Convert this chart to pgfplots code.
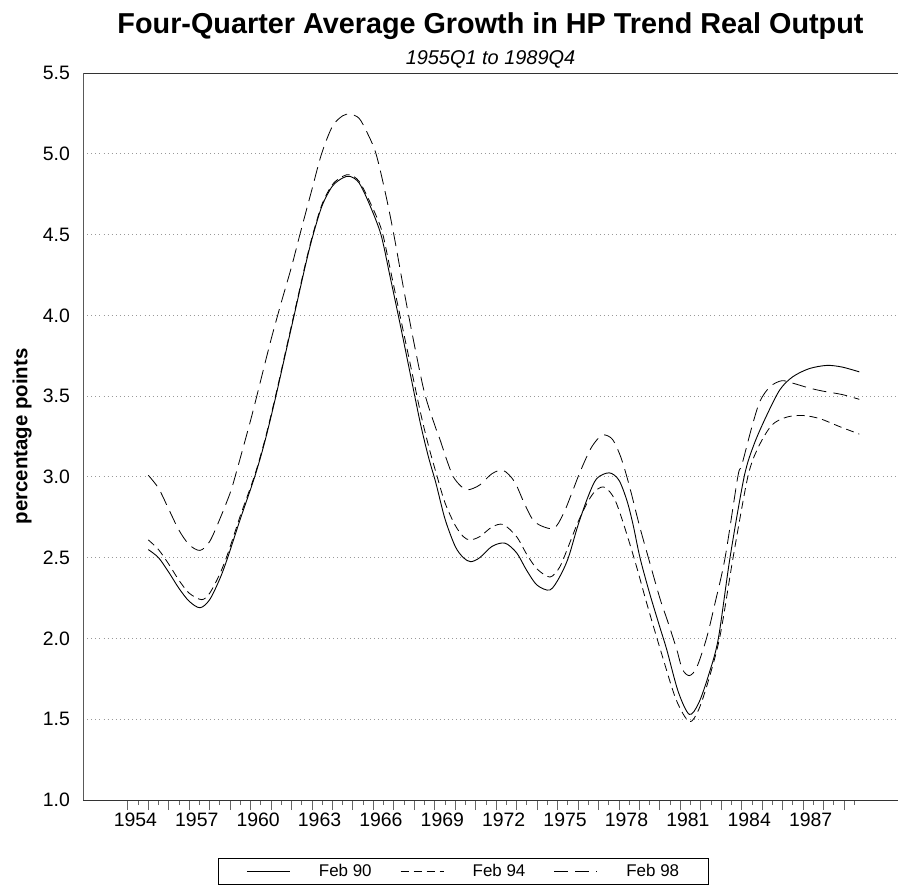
\documentclass[border=0pt]{standalone}
\usepackage{pgfplots}
\usepackage{pgfplotstable}
\pgfplotsset{compat=1.18}
\usepackage{fontspec}
\setmainfont{Liberation Sans}

\pgfplotstableread{
t v
1955.00 2.55
1955.50 2.50
1956.00 2.41
1956.50 2.31
1957.00 2.23
1957.53 2.19
1958.00 2.24
1958.50 2.37
1958.88 2.50
1959.50 2.74
1960.20 3.00
1960.70 3.22
1961.20 3.48
1961.70 3.76
1962.20 4.04
1962.70 4.32
1963.06 4.50
1963.50 4.68
1964.00 4.80
1964.50 4.85
1964.86 4.86
1965.30 4.82
1965.80 4.69
1966.37 4.50
1966.80 4.25
1967.30 3.95
1967.80 3.64
1968.30 3.33
1968.70 3.12
1969.06 2.96
1969.50 2.74
1970.00 2.57
1970.40 2.50
1970.76 2.475
1971.20 2.50
1971.80 2.57
1972.43 2.59
1973.00 2.53
1973.50 2.42
1974.00 2.33
1974.63 2.30
1975.10 2.38
1975.53 2.50
1976.00 2.70
1976.50 2.88
1976.92 2.99
1977.53 3.025
1978.00 2.98
1978.40 2.85
1978.70 2.70
1979.03 2.50
1979.50 2.28
1980.00 2.07
1980.34 1.93
1980.90 1.67
1981.44 1.53
1981.90 1.60
1982.40 1.78
1982.86 2.00
1983.43 2.50
1984.12 3.00
1984.60 3.20
1985.22 3.38
1985.87 3.54
1986.50 3.62
1987.30 3.67
1988.16 3.69
1988.90 3.68
1989.75 3.65
}\tabA

\pgfplotstableread{
t v
1955.00 2.61
1955.50 2.55
1956.00 2.46
1956.50 2.36
1957.00 2.28
1957.61 2.24
1958.00 2.28
1958.50 2.40
1958.90 2.53
1959.50 2.76
1960.20 3.01
1960.70 3.23
1961.20 3.49
1961.70 3.77
1962.20 4.05
1962.70 4.33
1963.06 4.51
1963.50 4.69
1964.00 4.81
1964.50 4.86
1964.86 4.87
1965.30 4.83
1965.80 4.71
1966.40 4.53
1966.80 4.30
1967.30 4.00
1967.80 3.70
1968.30 3.40
1968.70 3.19
1969.10 3.01
1969.50 2.84
1970.00 2.70
1970.40 2.63
1970.72 2.61
1971.20 2.63
1971.80 2.69
1972.35 2.705
1973.00 2.63
1973.50 2.52
1974.00 2.43
1974.63 2.38
1975.10 2.44
1975.50 2.56
1976.00 2.72
1976.50 2.85
1976.90 2.92
1977.32 2.935
1977.80 2.86
1978.30 2.68
1978.85 2.45
1979.40 2.20
1980.10 1.90
1980.80 1.62
1981.44 1.485
1981.90 1.56
1982.40 1.75
1982.95 2.02
1983.58 2.50
1984.30 3.00
1984.80 3.18
1985.47 3.32
1986.20 3.37
1987.00 3.38
1987.83 3.36
1988.81 3.31
1989.75 3.265
}\tabB

\pgfplotstableread{
t v
1955.00 3.01
1955.50 2.93
1956.00 2.80
1956.50 2.67
1957.00 2.58
1957.53 2.545
1958.00 2.60
1958.50 2.74
1959.00 2.90
1959.24 3.00
1960.00 3.35
1960.50 3.60
1961.00 3.85
1961.50 4.08
1962.00 4.30
1962.41 4.50
1963.00 4.78
1963.47 5.00
1964.00 5.17
1964.50 5.235
1964.86 5.245
1965.30 5.22
1965.70 5.13
1966.13 5.00
1966.60 4.75
1967.00 4.50
1967.50 4.15
1968.00 3.82
1968.50 3.52
1969.00 3.32
1969.26 3.23
1969.60 3.10
1969.91 3.00
1970.30 2.94
1970.64 2.92
1971.20 2.95
1971.80 3.02
1972.35 3.04
1972.90 2.97
1973.40 2.83
1973.90 2.72
1974.79 2.68
1975.28 2.77
1975.70 2.90
1976.10 3.03
1976.60 3.17
1977.00 3.24
1977.30 3.26
1977.70 3.23
1978.10 3.12
1978.50 2.95
1979.00 2.70
1979.44 2.50
1980.00 2.25
1980.40 2.10
1980.83 1.93
1981.10 1.81
1981.44 1.77
1981.80 1.82
1982.28 2.00
1982.70 2.22
1983.19 2.50
1983.81 3.00
1984.00 3.07
1984.50 3.31
1984.90 3.47
1985.40 3.56
1985.96 3.595
1986.50 3.58
1987.30 3.55
1988.00 3.53
1988.90 3.51
1989.75 3.48
}\tabC

\begin{document}
\begin{tikzpicture}
\path[use as bounding box] (0,0) rectangle (898bp,891bp);
\begin{axis}[
  at={(83bp,91bp)}, anchor=south west,
  scale only axis, width=815bp, height=727bp,
  xmin=1951.81, xmax=1991.64, ymin=1, ymax=5.5,
  axis x line=box, axis y line=left,
  axis line style={-, black!65, line width=0.8bp},
  x axis line style={black!80},
  xtick pos=left,
  tick align=outside,
  major tick length=10bp, minor tick length=5bp,
  tick style={black!60, line width=0.8bp},
  ytick={1,1.5,2,2.5,3,3.5,4,4.5,5,5.5},
  yticklabels={1.0,1.5,2.0,2.5,3.0,3.5,4.0,4.5,5.0,5.5},
  ytick style={draw=none},
  yticklabel style={font=\fontsize{19.5}{19.5}\selectfont, inner sep=0pt, anchor=east, xshift=-3bp},
  ymajorgrids,
  major grid style={black!40, line width=0.8bp, dash pattern=on 0.9bp off 3.2bp},
  xtick={1954,1955,...,1989},
  xticklabels={},
  minor xtick={1954.5,1955.5,...,1989.5},
  extra x ticks={1954.37,1957.37,1960.37,1963.37,1966.37,1969.37,1972.37,1975.37,1978.37,1981.37,1984.37,1987.37},
  extra x tick labels={1954,1957,1960,1963,1966,1969,1972,1975,1978,1981,1984,1987},
  extra x tick style={major tick length=0pt, tick style={draw=none},
     xticklabel style={font=\fontsize{19.5}{19.5}\selectfont, inner sep=0pt, anchor=north, yshift=-13bp}},
  ylabel={percentage points},
  ylabel style={font=\fontsize{20.5}{20.5}\selectfont\bfseries, at={(axis description cs:-0.0748,0.5)}, anchor=center, rotate=0},
  title={Four-Quarter Average Growth in HP Trend Real Output},
  title style={font=\fontsize{28.9}{28.9}\selectfont\bfseries, at={(axis description cs:0.5,1)}, anchor=base, yshift=34bp, inner sep=0pt},
  extra description/.code={\node[anchor=base, inner sep=0pt, yshift=8bp, font=\fontsize{20}{20}\selectfont\itshape] at (axis description cs:0.5,1) {1955Q1 to 1989Q4};},
  legend columns=3,
  legend image code/.code={\path[draw=none] (0bp,0bp) (72bp,0bp); \draw[#1] (14.5bp,0bp) -- (57.5bp,0bp);},
  legend style={at={(axis description cs:0.4663,-0.0977)}, anchor=center, draw=black, line width=0.6bp,
     font=\fontsize{17}{17}\selectfont, inner xsep=14.5bp, inner ysep=4bp,
     nodes={inner xsep=14.5bp, inner ysep=2bp}, column sep=0pt},
]
\addplot[black, line width=0.9bp, smooth, tension=0.5] table[x=t, y=v] {\tabA};
\addlegendentry{Feb 90}
\addplot[black, line width=0.8bp, smooth, tension=0.5, dash pattern=on 8bp off 5bp] table[x=t, y=v] {\tabB};
\addlegendentry{Feb 94}
\addplot[black, line width=0.8bp, smooth, tension=0.5, dash pattern=on 14bp off 7bp] table[x=t, y=v] {\tabC};
\addlegendentry{Feb 98}
\end{axis}
\end{tikzpicture}
\end{document}
